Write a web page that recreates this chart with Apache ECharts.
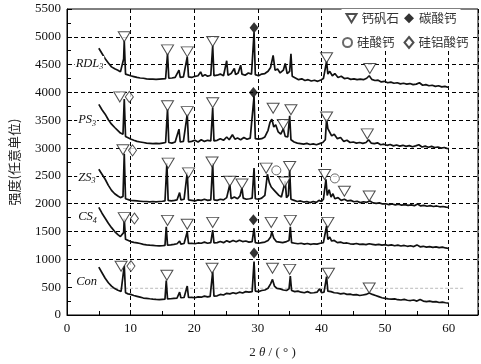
<!DOCTYPE html>
<html><head><meta charset="utf-8">
<script src="https://cdn.jsdelivr.net/npm/echarts@6/dist/echarts.min.js"></script>
<style>html,body{margin:0;padding:0;background:#fff}#c{width:481px;height:364px}</style>
</head><body><div id="c"></div><script>
// ---- tick labels ----
const xTickStep = 10;
const yTickStep = 500;
const xMin = 0, xMax = 64.6, yMin = 0, yMax = 5500;

// ---- sample names ----
const sampleNames = ['RDL', 'PS', 'ZS', 'CS', 'Con'];
const sampleSubs = ['3', '3', '3', '4', ''];
const labelX = [1.2, 1.6, 1.6, 1.6, 1.3];
const labelY = [4520, 3505, 2465, 1760, 605];

// ---- legend names ----
const phaseNames = ['钙矾石', '碳酸钙', '硅酸钙', '硅铝酸钙'];

// ---- XRD traces [2theta, intensity] ----
const rdl3 = [[5.0,4795],[5.5,4700],[6.0,4605],[6.5,4530],[7.0,4460],[7.5,4425],[8.0,4400],[8.4,4370],[8.7,4340],[8.9,4600],[9.0,4930],[9.2,4330],[9.5,4320],[10.0,4300],[10.5,4285],[11.0,4270],[11.5,4260],[12.0,4255],[12.5,4245],[13.0,4240],[13.5,4238],[14.0,4235],[14.5,4240],[15.0,4245],[15.5,4250],[15.8,4700],[16.0,4255],[16.5,4260],[17.0,4270],[17.3,4260],[17.6,4400],[17.8,4270],[18.3,4280],[18.9,4640],[19.1,4280],[19.6,4270],[20.1,4290],[20.6,4300],[21.0,4370],[21.3,4290],[21.7,4320],[22.1,4290],[22.6,4310],[22.9,4840],[23.1,4300],[23.6,4310],[24.1,4330],[24.6,4300],[25.1,4570],[25.3,4310],[25.8,4340],[26.3,4430],[26.5,4320],[26.9,4350],[27.3,4490],[27.5,4330],[28.0,4310],[28.5,4350],[29.0,4330],[29.4,5080],[29.6,4320],[30.1,4300],[30.6,4330],[31.1,4340],[31.6,4380],[32.0,4450],[32.4,4665],[32.7,4400],[33.1,4420],[33.5,4350],[34.0,4400],[34.3,4520],[34.6,4340],[35.0,4380],[35.2,4695],[35.4,4290],[35.9,4260],[36.4,4230],[36.9,4245],[37.4,4215],[37.9,4230],[38.4,4205],[38.9,4220],[39.4,4200],[39.9,4225],[40.3,4250],[40.8,4560],[41.0,4330],[41.3,4380],[41.7,4300],[42.1,4340],[42.6,4270],[43.1,4290],[43.6,4250],[44.1,4260],[44.6,4235],[45.1,4245],[45.6,4230],[46.1,4240],[46.6,4230],[47.1,4255],[47.5,4300],[47.9,4235],[48.4,4215],[48.9,4220],[49.4,4190],[49.9,4200],[50.4,4175],[50.9,4185],[51.4,4165],[51.9,4175],[52.4,4155],[52.9,4165],[53.4,4150],[53.9,4160],[54.4,4140],[54.9,4150],[55.4,4175],[55.9,4130],[56.4,4140],[56.9,4120],[57.4,4130],[57.9,4110],[58.4,4120],[58.9,4100],[59.4,4110],[60.0,4090]];
const ps3 = [[5.0,3785],[5.5,3690],[6.0,3610],[6.5,3510],[7.0,3430],[7.5,3370],[8.0,3315],[8.4,3270],[8.8,3250],[9.0,3880],[9.2,3210],[9.5,3190],[10.0,3165],[10.5,3140],[11.0,3120],[11.5,3110],[12.0,3100],[12.5,3090],[13.0,3085],[13.5,3080],[14.0,3085],[14.5,3080],[15.0,3090],[15.5,3100],[15.8,3700],[16.0,3100],[16.5,3090],[17.0,3110],[17.3,3100],[17.6,3340],[17.8,3110],[18.3,3120],[18.9,3610],[19.1,3110],[19.6,3120],[20.1,3140],[20.6,3110],[21.1,3150],[21.6,3120],[22.1,3140],[22.6,3130],[22.9,3725],[23.1,3130],[23.6,3140],[24.1,3170],[24.6,3140],[25.1,3200],[25.5,3150],[26.0,3240],[26.4,3160],[26.8,3180],[27.3,3150],[27.8,3190],[28.3,3160],[28.8,3180],[29.1,3170],[29.4,3930],[29.6,3170],[30.1,3160],[30.6,3170],[31.1,3200],[31.6,3320],[31.9,3460],[32.2,3520],[32.5,3380],[32.8,3420],[33.2,3290],[33.6,3250],[34.0,3345],[34.3,3210],[34.7,3200],[35.0,3580],[35.2,3150],[35.7,3110],[36.2,3090],[36.7,3080],[37.2,3070],[37.7,3085],[38.2,3065],[38.7,3075],[39.2,3060],[39.7,3080],[40.2,3100],[40.6,3150],[40.8,3520],[41.0,3350],[41.3,3380],[41.6,3220],[42.0,3250],[42.5,3170],[43.0,3190],[43.5,3120],[44.0,3140],[44.5,3100],[45.0,3110],[45.5,3090],[46.0,3100],[46.5,3085],[47.0,3100],[47.4,3150],[47.8,3090],[48.3,3080],[48.8,3095],[49.3,3060],[49.8,3070],[50.3,3050],[50.8,3065],[51.3,3040],[51.8,3055],[52.3,3035],[52.8,3050],[53.3,3030],[53.8,3045],[54.3,3025],[54.8,3040],[55.3,3060],[55.8,3020],[56.3,3035],[56.8,3015],[57.3,3030],[57.8,3010],[58.3,3020],[58.8,3000],[59.3,3010],[59.7,2995],[60.0,2990]];
const zs3 = [[5.0,2620],[5.5,2530],[6.0,2440],[6.5,2330],[7.0,2240],[7.5,2180],[8.0,2140],[8.4,2110],[8.8,2130],[9.0,2900],[9.2,2090],[9.5,2070],[10.0,2060],[10.5,2055],[11.0,2050],[11.5,2045],[12.0,2040],[12.5,2040],[13.0,2035],[13.5,2040],[14.0,2035],[14.5,2040],[15.0,2045],[15.4,2050],[15.7,2730],[15.9,2060],[16.4,2050],[16.9,2060],[17.3,2070],[17.7,2200],[17.9,2070],[18.4,2080],[18.9,2565],[19.1,2070],[19.6,2060],[20.1,2050],[20.6,2070],[21.1,2060],[21.6,2080],[22.1,2060],[22.6,2070],[22.9,2730],[23.1,2070],[23.6,2060],[24.1,2080],[24.6,2070],[25.1,2110],[25.6,2350],[25.8,2090],[26.3,2120],[26.8,2090],[27.2,2140],[27.5,2290],[27.7,2100],[28.2,2080],[28.7,2090],[29.1,2100],[29.4,2640],[29.6,2090],[30.1,2080],[30.6,2100],[31.1,2150],[31.5,2530],[31.8,2380],[32.1,2300],[32.5,2250],[32.9,2200],[33.3,2150],[33.7,2120],[34.0,2150],[34.3,2405],[34.5,2110],[34.8,2150],[35.0,2610],[35.2,2080],[35.7,2060],[36.2,2040],[36.7,2050],[37.2,2030],[37.7,2040],[38.2,2020],[38.7,2040],[39.2,2025],[39.6,2060],[40.0,2040],[40.3,2080],[40.7,2440],[40.9,2150],[41.2,2250],[41.5,2120],[41.8,2180],[42.1,2090],[42.6,2110],[43.1,2060],[43.6,2080],[44.1,2050],[44.6,2060],[45.1,2035],[45.6,2045],[46.1,2020],[46.6,2035],[47.1,2025],[47.6,2050],[48.1,2015],[48.6,2005],[49.1,2015],[49.6,1995],[50.1,2000],[50.6,1985],[51.1,1995],[51.6,1980],[52.1,1990],[52.6,1975],[53.1,1985],[53.6,1970],[54.1,1980],[54.6,1965],[55.1,1995],[55.6,1960],[56.1,1970],[56.6,1955],[57.1,1965],[57.6,1950],[58.1,1960],[58.6,1945],[59.1,1950],[59.6,1940],[60.0,1935]];
const cs4 = [[5.0,1935],[5.5,1830],[6.0,1740],[6.5,1650],[7.0,1570],[7.5,1500],[8.0,1445],[8.4,1410],[8.7,1380],[8.9,1480],[9.0,1735],[9.2,1360],[9.5,1340],[10.0,1320],[10.5,1305],[11.0,1295],[11.5,1285],[12.0,1270],[12.5,1262],[13.0,1255],[13.5,1250],[14.0,1245],[14.5,1242],[15.0,1245],[15.4,1250],[15.6,1585],[15.8,1255],[16.3,1262],[16.8,1270],[17.3,1280],[17.7,1330],[17.9,1275],[18.4,1285],[18.9,1495],[19.1,1285],[19.6,1290],[20.1,1280],[20.6,1295],[21.1,1290],[21.6,1310],[22.1,1290],[22.6,1300],[22.9,1525],[23.1,1295],[23.6,1300],[24.1,1320],[24.6,1300],[25.1,1335],[25.6,1310],[26.1,1340],[26.6,1315],[27.1,1345],[27.6,1320],[28.1,1330],[28.6,1310],[29.1,1320],[29.4,1560],[29.6,1300],[30.1,1290],[30.6,1300],[31.1,1310],[31.6,1340],[32.0,1400],[32.2,1495],[32.5,1380],[32.9,1320],[33.4,1310],[33.9,1300],[34.5,1320],[34.9,1340],[35.1,1585],[35.3,1300],[35.8,1290],[36.3,1280],[36.8,1290],[37.3,1275],[37.8,1285],[38.3,1270],[38.8,1280],[39.3,1275],[39.8,1290],[40.3,1300],[40.8,1600],[41.0,1360],[41.3,1400],[41.6,1330],[42.0,1340],[42.5,1300],[43.0,1310],[43.5,1290],[44.0,1295],[44.5,1280],[45.0,1275],[45.5,1285],[46.0,1270],[46.5,1275],[47.0,1265],[47.5,1280],[48.0,1270],[48.5,1260],[49.0,1270],[49.5,1255],[50.0,1265],[50.5,1250],[51.0,1260],[51.5,1245],[52.0,1255],[52.5,1240],[53.0,1250],[53.5,1235],[54.0,1245],[54.5,1230],[55.0,1260],[55.5,1225],[56.0,1235],[56.5,1220],[57.0,1230],[57.5,1215],[58.0,1225],[58.5,1210],[59.0,1220],[59.5,1205],[60.0,1195]];
const con = [[5.0,860],[5.5,760],[6.0,660],[6.5,580],[7.0,520],[7.5,475],[8.0,445],[8.5,425],[8.8,410],[9.0,890],[9.2,400],[9.6,380],[10.0,370],[10.5,350],[11.0,335],[11.5,320],[12.0,305],[12.5,300],[13.0,292],[13.5,285],[14.0,280],[14.5,278],[15.0,282],[15.4,285],[15.6,620],[15.8,290],[16.3,292],[16.8,300],[17.3,305],[17.7,410],[17.9,310],[18.4,315],[18.9,520],[19.1,315],[19.6,318],[20.1,310],[20.6,325],[21.1,320],[21.6,340],[22.1,325],[22.5,335],[22.9,780],[23.1,340],[23.6,345],[24.1,370],[24.6,360],[25.1,390],[25.6,380],[26.1,400],[26.6,385],[27.1,410],[27.6,395],[28.1,420],[28.6,410],[29.1,420],[29.4,960],[29.6,430],[30.1,420],[30.6,440],[31.1,450],[31.6,480],[32.0,560],[32.3,640],[32.6,520],[33.0,480],[33.5,470],[34.0,450],[34.5,440],[34.9,470],[35.1,700],[35.3,440],[35.8,420],[36.3,430],[36.8,410],[37.3,400],[37.8,420],[38.3,395],[38.8,400],[39.3,410],[39.7,470],[40.0,400],[40.4,410],[40.8,690],[41.0,430],[41.5,420],[42.0,400],[42.5,395],[43.0,380],[43.5,390],[44.0,370],[44.5,375],[45.0,360],[45.5,365],[46.0,350],[46.5,360],[47.0,370],[47.5,395],[48.0,370],[48.5,350],[49.0,330],[49.5,310],[50.0,300],[50.5,290],[51.0,285],[51.5,290],[52.0,275],[52.5,270],[53.0,280],[53.5,265],[54.0,260],[54.5,270],[55.0,250],[55.5,280],[56.0,250],[56.5,240],[57.0,250],[57.5,235],[58.0,240],[58.5,225],[59.0,230],[59.5,220],[60.0,215]];
const conRef = [[5.2,480],[62.3,480]];

// ---- phase markers [2theta, intensity] ----
const ettringiteMarks = [[9.0,5000],[15.8,4765],[18.9,4730],[22.9,4915],[40.8,4625],[47.6,4430],
  [8.3,3920],[15.8,3760],[18.9,3655],[22.9,3815],[32.4,3715],[34.0,3425],[35.2,3690],[40.8,3560],[47.2,3255],
  [8.8,2970],[15.9,2730],[19.1,2555],[22.8,2750],[25.6,2405],[27.5,2355],[31.3,2640],[34.2,2390],[35.0,2670],[40.5,2525],[43.6,2225],[47.5,2140],
  [9.0,1750],[15.8,1700],[18.9,1630],[22.9,1665],[32.1,1665],[35.1,1700],[41.0,1665],
  [8.5,875],[15.7,715],[22.8,840],[32.3,840],[35.0,820],[41.1,750],[47.5,485]];
const calciteMarks = [[29.4,5165],[29.3,4000],[29.3,1710],[29.4,1115]];
const silicateMarks = [[32.9,2600],[42.1,2455]];
const aluminosilicateMarks = [[9.8,3920],[10.3,2960],[10.6,1735],[10.05,880]];

const traces = [rdl3, ps3, zs3, cs4, con];
const serif = 'Liberation Serif';
const cjk = 'Noto Sans CJK SC';
const triPath = 'path://M0,0L12,0L6,10Z';

const chart = echarts.init(document.getElementById('c'), null, {renderer: 'canvas'});
const nY = Math.round((yMax - yMin) / yTickStep) + 1;
const ySplitColors = [];
for (let i = 0; i < nY; i++) ySplitColors.push((i < 2 || i === nY - 1) ? 'rgba(0,0,0,0)' : '#000');

const series = [];
series.push({type: 'line', data: conRef, symbol: 'none', silent: true, z: 1,
  lineStyle: {color: '#bbb', width: 1, type: [3, 2]}});
traces.forEach(t => series.push({type: 'line', data: t, symbol: 'none', silent: true, z: 2,
  lineStyle: {color: '#111', width: 1.7}}));
series.push({name: phaseNames[0], type: 'scatter', data: ettringiteMarks, symbol: triPath, symbolSize: [12, 10], z: 4,
  itemStyle: {color: '#fff', borderColor: '#222', borderWidth: 1}});
series.push({name: phaseNames[1], type: 'scatter', data: calciteMarks, symbol: 'diamond', symbolSize: [9, 11], z: 4,
  itemStyle: {color: '#000'}});
series.push({name: phaseNames[2], type: 'scatter', data: silicateMarks, symbol: 'circle', symbolSize: 9, z: 4,
  itemStyle: {color: '#fff', borderColor: '#444', borderWidth: 1}});
series.push({name: phaseNames[3], type: 'scatter', data: aluminosilicateMarks, symbol: 'diamond', symbolSize: [8, 11], z: 4,
  itemStyle: {color: '#fff', borderColor: '#222', borderWidth: 1}});

const legendText = {fontFamily: cjk, fontSize: 12.5, color: '#333'};
chart.setOption({
  animation: false,
  backgroundColor: '#fff',
  grid: {left: 58, right: 3, top: 9, bottom: 42, show: true, borderColor: '#000', borderWidth: 1, backgroundColor: 'transparent'},
  legend: [
    {data: [phaseNames[0], phaseNames[1]], left: 341.5, top: 9, itemWidth: 10, itemHeight: 10, itemGap: 5,
      padding: [3, 4, 3, 4], backgroundColor: '#fff', textStyle: legendText, selectedMode: false},
    {data: [phaseNames[2], phaseNames[3]], left: 338, top: 30, itemWidth: 9, itemHeight: 11, itemGap: 9,
      padding: [6, 4, 2, 4], backgroundColor: '#fff', textStyle: legendText, selectedMode: false}
  ],
  xAxis: {
    type: 'value', min: xMin, max: xMax, interval: xTickStep,
    name: '2 {i|θ} / ( ° )', nameLocation: 'middle', nameGap: 31,
    nameTextStyle: {fontFamily: serif, fontSize: 13, color: '#222', rich: {i: {fontFamily: serif, fontStyle: 'italic', fontSize: 13, color: '#222'}}},
    axisLine: {show: true, lineStyle: {color: '#000', width: 1}},
    axisTick: {show: true, inside: true, length: 5, lineStyle: {color: '#000'}},
    minorTick: {show: true, splitNumber: 2, length: 4, lineStyle: {color: '#000'}},
    axisLabel: {margin: 7, fontFamily: serif, fontSize: 13, color: '#111', showMaxLabel: false,
      formatter: v => (Math.abs(v % xTickStep) < 1e-6 ? String(v) : '')},
    splitLine: {show: true, lineStyle: {color: '#000', width: 1, type: [4, 3]}}
  },
  yAxis: {
    type: 'value', min: yMin, max: yMax, interval: yTickStep,
    name: '强度(任意单位)', nameLocation: 'middle', nameGap: 46, nameRotate: 90,
    nameTextStyle: {fontFamily: cjk, fontSize: 13, color: '#222'},
    axisLine: {show: true, lineStyle: {color: '#000', width: 1}},
    axisTick: {show: true, inside: true, length: 5, lineStyle: {color: '#000'}},
    minorTick: {show: true, splitNumber: 2, length: 4, lineStyle: {color: '#000'}},
    axisLabel: {margin: 6, fontFamily: serif, fontSize: 13, color: '#111', formatter: v => String(v)},
    splitLine: {show: true, lineStyle: {color: ySplitColors, width: 1, type: [4, 3]}}
  },
  series: series
});

// sample name labels placed through the grid's own coordinate conversion
const labelGraphics = sampleNames.map((n, i) => {
  const p = chart.convertToPixel({gridIndex: 0}, [labelX[i], labelY[i]]);
  const txt = sampleSubs[i] ? '{n|' + n + '}{s|' + sampleSubs[i] + '}' : '{n|' + n + '}';
  return {type: 'text', x: p[0], y: p[1], z: 10,
    style: {text: txt, align: 'left', verticalAlign: 'middle', backgroundColor: '#fff', padding: [0, 1],
      rich: {n: {fontFamily: serif, fontStyle: 'italic', fontSize: 12.5, fill: '#111'},
             s: {fontFamily: serif, fontStyle: 'italic', fontSize: 8, fill: '#111', padding: [7, 0, 0, 0]}}}};
});
chart.setOption({graphic: labelGraphics});
</script></body></html>
